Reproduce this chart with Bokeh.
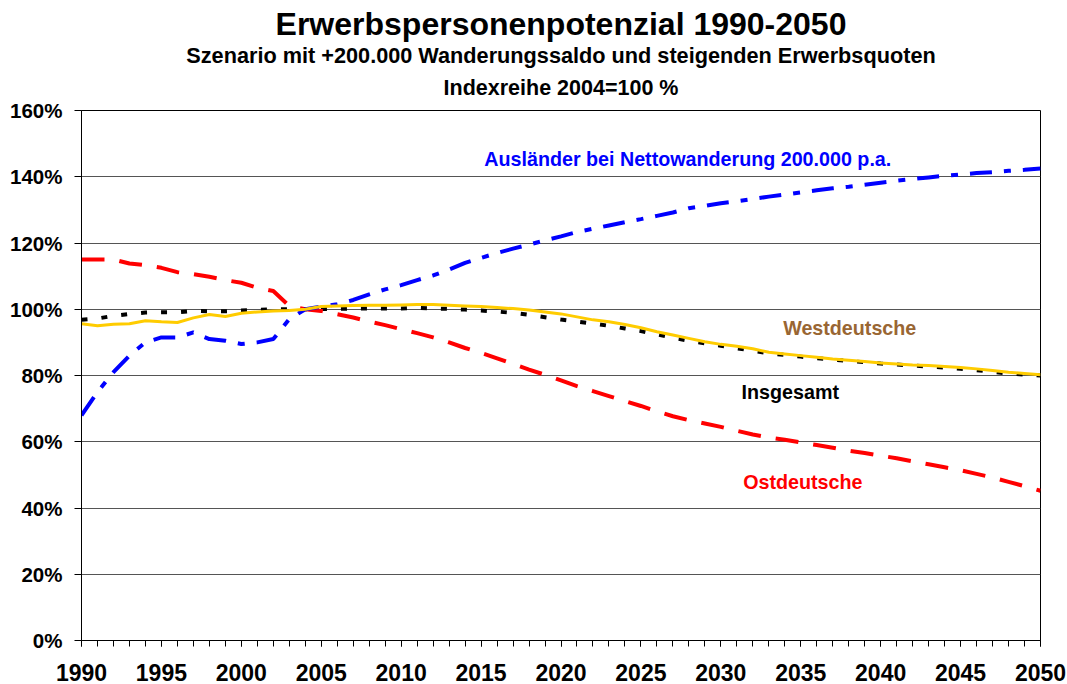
from bokeh.plotting import figure
from bokeh.models import Label, Title, SingleIntervalTicker, FixedTicker, PrintfTickFormatter, Range1d
from bokeh.embed import file_html
from bokeh.resources import INLINE

years = list(range(1990, 2051))

auslaender = [68, 75, 81, 86, 90, 91.5, 91.5, 93, 91, 90.5, 89.5, 90, 91, 97, 100,
              100.8, 101.5, 102.8, 104.5, 106, 107.3, 108.8, 110.2, 112, 114, 115.5,
              117, 118.3, 119.5, 120.8, 122, 123.3, 124.3, 125.3, 126.3, 127.2,
              128.2, 129.2, 130.5, 131.2, 132, 132.6, 133.3, 134, 134.6, 135.3,
              135.9, 136.5, 137, 137.6, 138.2, 138.8, 139.3, 139.8, 140.3, 140.7,
              141.1, 141.4, 141.8, 142.1, 142.5]

ostdeutsche = [115, 115, 115, 113.8, 113.3, 112.5, 111.2, 110.6, 109.8, 108.8, 108,
               106.5, 105.5, 101, 100, 99.5, 98.5, 97.5, 96.3, 95.2, 94, 92.8, 91.5,
               90, 88.3, 86.8, 85.2, 83.5, 81.8, 80.2, 78.5, 76.8, 75.3, 73.8, 72.3,
               70.8, 69.2, 67.7, 66.5, 65.5, 64.5, 63.3, 62.2, 61.3, 60.6, 59.8, 59,
               58.2, 57.3, 56.6, 55.8, 55, 54.1, 53.2, 52.3, 51.4, 50.3, 49.2, 47.9,
               46.6, 45.2]

westdeutsche = [95.6, 95, 95.5, 95.6, 96.5, 96.2, 96, 97.4, 98.4, 97.8, 98.8, 99.2,
                99.5, 99.6, 100, 100.8, 101, 101.1, 101.2, 101.2, 101.3, 101.4, 101.4,
                101.2, 101, 100.8, 100.5, 100.2, 99.8, 99.2, 98.6, 97.7, 96.8, 96.2,
                95.4, 94.4, 93.2, 92.2, 91.2, 90.2, 89.4, 88.8, 88.1, 87, 86.5, 86,
                85.5, 85, 84.6, 84.2, 83.8, 83.5, 83.2, 83, 82.7, 82.4, 82, 81.5, 81,
                80.6, 80.2]

insgesamt = [96.8, 97.2, 98, 98.6, 99, 99.1, 99.1, 99.5, 99.4, 99.4, 99.6, 99.8, 100,
             100, 100, 100.1, 100.1, 100.2, 100.2, 100.2, 100.2, 100.4, 100.2, 100.1,
             99.9, 99.6, 99.3, 98.9, 98.3, 97.6, 96.9, 96.3, 95.7, 95, 94.2, 93.4,
             92.4, 91.4, 90.5, 89.7, 89, 88.2, 87.5, 86.7, 86.2, 85.7, 85.2, 84.8,
             84.4, 84, 83.6, 83.3, 83, 82.7, 82.4, 82, 81.6, 81.1, 80.6, 80.3, 80]

y_ticks = [0, 20, 40, 60, 80, 100, 120, 140, 160]

title_lines = ["Erwerbspersonenpotenzial 1990-2050",
               "Szenario mit +200.000 Wanderungssaldo und steigenden Erwerbsquoten",
               "Indexreihe 2004=100 %"]

FONT = "Liberation Sans"

p = figure(width=1067, height=684, output_backend="svg", toolbar_location=None,
           x_range=Range1d(1990, 2050), y_range=Range1d(0, 160),
           min_border_left=81, min_border_right=27, min_border_top=110,
           min_border_bottom=44)
p.background_fill_color = "white"
p.border_fill_color = "white"
p.outline_line_color = "black"
p.outline_line_width = 1

p.xgrid.grid_line_color = None
p.ygrid.grid_line_color = "#555555"
p.ygrid.grid_line_width = 1
p.ygrid.ticker = FixedTicker(ticks=y_ticks)

p.xaxis.ticker = SingleIntervalTicker(interval=5, num_minor_ticks=5)
p.xaxis.major_tick_out = 6
p.xaxis.major_tick_in = 0
p.xaxis.minor_tick_out = 6
p.xaxis.minor_tick_in = 0
p.xaxis.major_label_standoff = 17
p.xaxis.major_label_text_font = FONT
p.xaxis.major_label_text_font_style = "bold"
p.xaxis.major_label_text_font_size = "23px"
p.xaxis.major_label_text_color = "black"
p.xaxis.axis_line_color = "black"
p.xaxis.axis_line_width = 1

p.yaxis.ticker = FixedTicker(ticks=y_ticks)
p.yaxis.formatter = PrintfTickFormatter(format="%d%%")
p.yaxis.major_tick_out = 7
p.yaxis.major_tick_in = 0
p.yaxis.minor_tick_line_color = None
p.yaxis.major_label_standoff = 12
p.yaxis.major_label_text_font = FONT
p.yaxis.major_label_text_font_style = "bold"
p.yaxis.major_label_text_font_size = "20.5px"
p.yaxis.major_label_text_color = "black"
p.yaxis.axis_line_color = "black"

p.line(years, insgesamt, line_color="black", line_width=4, line_dash="6 14")
p.line(years, ostdeutsche, line_color="#FF0000", line_width=4, line_dash="23 15")
p.line(years, auslaender, line_color="#0000FF", line_width=4, line_dash="22 12 7 12")
p.line(years, westdeutsche, line_color="#FFCC00", line_width=3)

# titles: later-added titles go further up
title_sizes = ["32px", "21.7px", "21.5px"]
title_standoffs = [7, -10, 22]
for txt, sz, so in reversed(list(zip(title_lines, title_sizes, title_standoffs))):
    p.add_layout(Title(text=txt, align="center", text_font=FONT, text_font_style="bold",
                       text_font_size=sz, text_color="black", standoff=so), "above")

series_labels = [("Ausländer bei Nettowanderung 200.000 p.a.", 2015.2, 145.5, "#0000FF"),
                 ("Westdeutsche", 2033.9, 94.2, "#996633"),
                 ("Insgesamt", 2031.3, 74.9, "black"),
                 ("Ostdeutsche", 2031.4, 48.0, "#FF0000")]
for txt, xx, yy, col in series_labels:
    p.add_layout(Label(x=xx, y=yy, text=txt, text_align="left", text_baseline="middle",
                       text_font=FONT, text_font_style="bold", text_font_size="19.7px",
                       text_color=col))

open("out.html", "w").write(file_html(p, INLINE))
